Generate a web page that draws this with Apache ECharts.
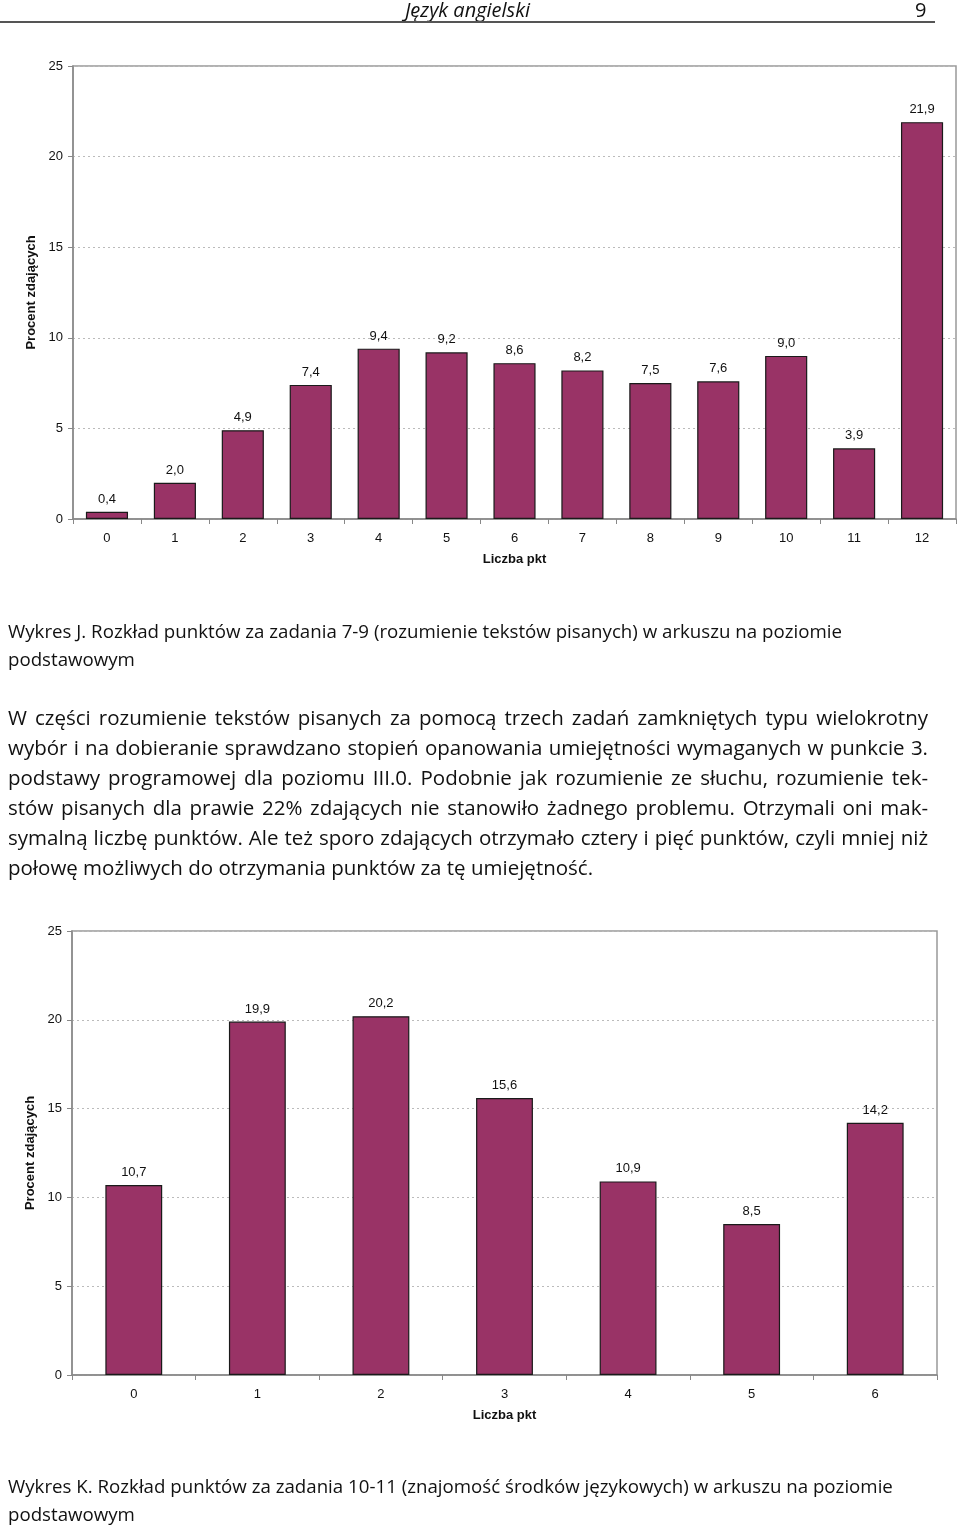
<!DOCTYPE html>
<html>
<head>
<meta charset="utf-8">
<script src="https://cdn.jsdelivr.net/npm/echarts@6/dist/echarts.min.js"></script>
<style>
  html, body { margin: 0; padding: 0; background: #fff; }
  #wrap { position: relative; width: 960px; height: 1528px; overflow: hidden; }
  #chart { position: absolute; left: 0; top: 0; width: 960px; height: 1528px; }
  .t { position: absolute; white-space: nowrap; font-family: "Open Sans", "Noto Sans", sans-serif; color: #111; }
  .cap { font-size: 18.7px; line-height: 28px; left: 8px; }
  .par { font-size: 20.5px; line-height: 30px; left: 8px; width: 920px; }
  .j { text-align: justify; text-align-last: justify; }
  .hdr { font-size: 20px; font-style: italic; }
  #rule { position: absolute; left: 0; top: 21px; width: 935px; height: 2px; background: #555; }
</style>
</head>
<body>
<div id="wrap">
  <div id="chart"></div>
  <div class="t hdr" style="left:0;width:935px;text-align:center;top:-4px;">Język angielski</div>
  <div class="t" style="left:915px;top:-4px;font-size:20px;">9</div>
  <div id="rule"></div>

  <div class="t cap" style="top:617px;">Wykres J. Rozkład punktów za zadania 7-9 (rozumienie tekstów pisanych) w arkuszu na poziomie</div>
  <div class="t cap" style="top:645px;">podstawowym</div>

  <div class="t par j" style="top:702px;">W części rozumienie tekstów pisanych za pomocą trzech zadań zamkniętych typu wielokrotny</div>
  <div class="t par j" style="top:732px;">wybór i na dobieranie sprawdzano stopień opanowania umiejętności wymaganych w punkcie 3.</div>
  <div class="t par j" style="top:762px;">podstawy programowej dla poziomu III.0. Podobnie jak rozumienie ze słuchu, rozumienie tek-</div>
  <div class="t par j" style="top:792px;">stów pisanych dla prawie 22% zdających nie stanowiło żadnego problemu. Otrzymali oni mak-</div>
  <div class="t par j" style="top:822px;">symalną liczbę punktów. Ale też sporo zdających otrzymało cztery i pięć punktów, czyli mniej niż</div>
  <div class="t par" style="top:852px;">połowę możliwych do otrzymania punktów za tę umiejętność.</div>

  <div class="t cap" style="top:1472px;">Wykres K. Rozkład punktów za zadania 10-11 (znajomość środków językowych) w arkuszu na poziomie</div>
  <div class="t cap" style="top:1500px;">podstawowym</div>
</div>
<script>
// Chart J: points for tasks 7-9
var catsJ = ['0','1','2','3','4','5','6','7','8','9','10','11','12'];
var valsJ = [0.4, 2.0, 4.9, 7.4, 9.4, 9.2, 8.6, 8.2, 7.5, 7.6, 9.0, 3.9, 21.9];
// Chart K: points for tasks 10-11
var catsK = ['0','1','2','3','4','5','6'];
var valsK = [10.7, 19.9, 20.2, 15.6, 10.9, 8.5, 14.2];
var yTicks = [0, 5, 10, 15, 20, 25];

var chart = echarts.init(document.getElementById('chart'));
var lblFont = { fontFamily: 'Liberation Sans, Arial, sans-serif', fontSize: 13, color: '#111' };
function xAx(idx, cats) {
  return {
    type: 'category', gridIndex: idx, data: cats,
    name: 'Liczba pkt', nameLocation: 'middle', nameGap: 34,
    nameTextStyle: { fontFamily: 'Liberation Sans, Arial, sans-serif', fontSize: 13, fontWeight: 'bold', color: '#111' },
    axisLine: { lineStyle: { color: '#888', width: 1.5 } },
    axisTick: { show: true, length: 5, lineStyle: { color: '#888' } },
    axisLabel: Object.assign({ margin: 13 }, lblFont),
    splitLine: { show: false }
  };
}
function yAx(idx) {
  return {
    type: 'value', gridIndex: idx, min: yTicks[0], max: yTicks[yTicks.length - 1], interval: 5,
    name: 'Procent zdających', nameLocation: 'middle', nameGap: 31,
    nameTextStyle: { fontFamily: 'Liberation Sans, Arial, sans-serif', fontSize: 13, fontWeight: 'bold', color: '#111' },
    axisLine: { show: true, lineStyle: { color: '#888', width: 1.5 } },
    axisTick: { show: true, length: 5, lineStyle: { color: '#888' } },
    axisLabel: Object.assign({ margin: 10 }, lblFont),
    splitLine: { show: true, lineStyle: { color: '#bbb', type: [2, 3], width: 1 } }
  };
}
function fmt(p) { return p.value.toFixed(1).replace('.', ','); }
function ser(idx, vals, w) {
  return {
    type: 'bar', xAxisIndex: idx, yAxisIndex: idx, data: vals, barWidth: w,
    itemStyle: { color: '#993366', borderColor: '#1a1a1a', borderWidth: 1.2 },
    label: Object.assign({ show: true, position: 'top', distance: 6, formatter: fmt }, lblFont),
    silent: true
  };
}
chart.setOption({
  animation: false,
  grid: [
    { left: 73, right: 4, top: 66, height: 453, show: true, borderColor: '#999', borderWidth: 1.5, backgroundColor: 'transparent' },
    { left: 72, right: 23, top: 931, height: 444, show: true, borderColor: '#999', borderWidth: 1.5, backgroundColor: 'transparent' }
  ],
  xAxis: [xAx(0, catsJ), xAx(1, catsK)],
  yAxis: [yAx(0), yAx(1)],
  series: [ser(0, valsJ, '62%'), ser(1, valsK, '46%')]
});
</script>
</body>
</html>
